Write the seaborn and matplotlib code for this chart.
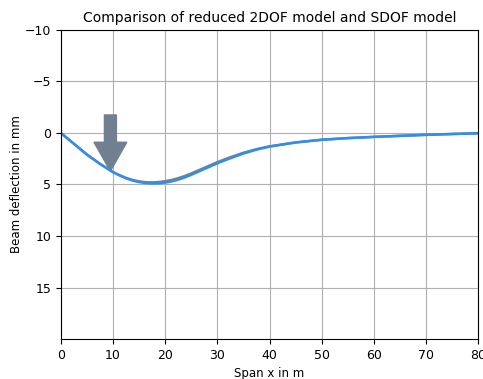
import matplotlib
matplotlib.use('Agg')
import matplotlib.pyplot as plt
import numpy as np
import pandas as pd
import seaborn as sns

# span positions (m) and deflections (mm)
span = [0, 2.5, 5, 7.5, 10, 11.25, 12.5, 13.75, 15, 16.25, 17.5, 18.75, 20,
        21.25, 22.5, 23.75, 25, 27.5, 30, 32.5, 35, 37.5, 40, 45, 50, 55,
        60, 65, 70, 75, 80]
defl_2dof = [0, 1.05, 2.1, 3.0, 3.8, 4.12, 4.4, 4.62, 4.77, 4.86, 4.9, 4.88, 4.82,
             4.7, 4.53, 4.32, 4.06, 3.5, 2.95, 2.45, 2.0, 1.62, 1.32, 0.92, 0.66,
             0.5, 0.38, 0.28, 0.18, 0.1, 0.03]
defl_sdof = [0, 1.05, 2.1, 3.0, 3.8, 4.1, 4.36, 4.56, 4.7, 4.78, 4.8, 4.76, 4.68,
             4.56, 4.39, 4.18, 3.93, 3.38, 2.83, 2.35, 1.92, 1.57, 1.3, 0.92, 0.66,
             0.5, 0.38, 0.28, 0.18, 0.1, 0.03]

load_x = 9.5

df = pd.DataFrame({'x': span, 'sdof': defl_sdof, '2dof': defl_2dof})

fig = plt.figure(figsize=(4.83, 3.79), dpi=100)
ax = fig.add_axes([0.126, 0.1055, 0.864, 0.8155])

sns.lineplot(data=df, x='x', y='sdof', color='#808080', linewidth=1.8, ax=ax)
sns.lineplot(data=df, x='x', y='2dof', color='#2e8ff0', linewidth=1.8, ax=ax)

ax.arrow(load_x, -1.75, 0, 5.45, width=2.3, head_width=6.3, head_length=2.8,
         length_includes_head=True, color='slategray', zorder=1)

ax.set_xlim(0, 80)
ax.set_ylim(20, -10)
ax.set_yticks([-10, -5, 0, 5, 10, 15])
ax.set_xticks(range(0, 81, 10))
ax.grid(True, color='#b0b0b0', linewidth=0.8)
ax.set_axisbelow(True)
ax.set_title('Comparison of reduced 2DOF model and SDOF model', fontsize=10)
ax.set_xlabel('Span x in m', fontsize=8.5)
ax.set_ylabel('Beam deflection in mm', fontsize=8.5, labelpad=1.5)
ax.tick_params(labelsize=9)

plt.savefig('out.png')
plt.close()
